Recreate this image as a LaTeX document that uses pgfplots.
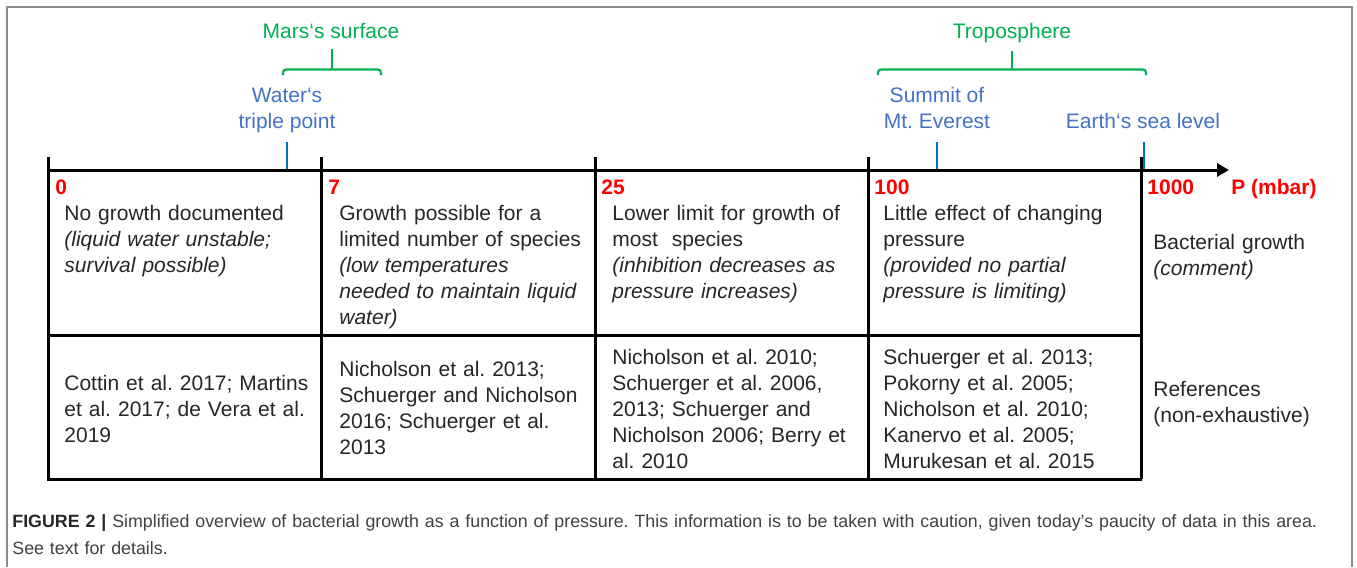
\documentclass[border=0pt]{standalone}
\usepackage{pgfplots}
\pgfplotsset{compat=1.18}
\usepackage{fontspec}
\setmainfont{Liberation Sans}
\usetikzlibrary{arrows.meta}
\definecolor{mgreen}{HTML}{00B050}
\definecolor{mblue}{HTML}{4472C4}
\definecolor{tblue}{HTML}{0070C0}
\definecolor{mred}{HTML}{FF0000}
\definecolor{frame}{HTML}{8C8C8C}
\frenchspacing
\begin{document}
\begin{tikzpicture}
\begin{axis}[
  width=678.5pt, height=283.5pt, scale only axis,
  xmin=0, xmax=1357, ymin=0, ymax=567, y dir=reverse,
  hide axis, clip=false,
]
% bounding box
\path (axis cs:0,0) rectangle (axis cs:1357,567);
% outer frame
\addplot[frame, line width=0.9pt, mark=none] coordinates {(7,567) (7,7) (1352,7) (1352,567)};
% green brackets
\addplot[mgreen, line width=1.1pt, mark=none, rounded corners=1.5pt] coordinates {(283,75) (283,69.5) (381,69.5) (381,75)};
\addplot[mgreen, line width=1.1pt, mark=none] coordinates {(332,69.5) (332,49)};
\addplot[mgreen, line width=1.1pt, mark=none, rounded corners=1.5pt] coordinates {(878,75) (878,69.5) (1146,69.5) (1146,75)};
\addplot[mgreen, line width=1.1pt, mark=none] coordinates {(1012,69.5) (1012,51)};
% blue ticks
\addplot[tblue, line width=1.2pt, mark=none] coordinates {(287,142) (287,170)};
\addplot[tblue, line width=1.2pt, mark=none] coordinates {(937,142) (937,170)};
\addplot[tblue, line width=1.2pt, mark=none] coordinates {(1144,142) (1144,170)};
% table vertical lines (pressure ticks)
\addplot[black, line width=1.5pt, mark=none] coordinates {(48,157) (48,479)};
\addplot[black, line width=1.5pt, mark=none] coordinates {(321,157) (321,479)};
\addplot[black, line width=1.5pt, mark=none] coordinates {(595,157) (595,479)};
\addplot[black, line width=1.5pt, mark=none] coordinates {(868,157) (868,479)};
\addplot[black, line width=1.5pt, mark=none] coordinates {(1141,157) (1141,479)};
% horizontal lines
\addplot[black, line width=1.5pt, mark=none] coordinates {(48,335) (1141,335)};
\addplot[black, line width=1.5pt, mark=none] coordinates {(47.3,479) (1141.7,479)};
% pressure axis with arrow
\addplot[black, line width=1.5pt, mark=none, -{Triangle[length=6pt,width=6.5pt]}] coordinates {(47.3,170) (1229,170)};

\tikzset{lab/.style={inner sep=0pt, font=\fontsize{10.5}{13}\selectfont}}
% top labels
\node[lab, mgreen, anchor=base] at (axis cs:331,38) {Mars‘s surface};
\node[lab, mgreen, anchor=base] at (axis cs:1012,38) {Troposphere};
\node[lab, mblue, anchor=base] at (axis cs:287,102) {Water‘s};
\node[lab, mblue, anchor=base] at (axis cs:287,128) {triple point};
\node[lab, mblue, anchor=base] at (axis cs:937,102) {Summit of};
\node[lab, mblue, anchor=base] at (axis cs:937,128) {Mt. Everest};
\node[lab, mblue, anchor=base] at (axis cs:1143,128) {Earth‘s sea level};
% red pressure labels
\tikzset{rl/.style={lab, mred, font=\fontsize{10.5}{13}\selectfont\bfseries, anchor=base west}}
\node[rl] at (axis cs:55,194) {0};
\node[rl] at (axis cs:328,194) {7};
\node[rl] at (axis cs:601,194) {25};
\node[rl] at (axis cs:874,194) {100};
\node[rl] at (axis cs:1147,194) {1000};
\node[rl] at (axis cs:1231,194) {P (mbar)};

\tikzset{cell/.style={lab, anchor=base west, text width=126pt, align=left, text=black!85}}
% row 1
\node[cell] at (axis cs:64,220) {No growth documented\\ \textit{(liquid water unstable;}\\ \textit{survival possible)}};
\node[cell] at (axis cs:339,220) {Growth possible for a\\ limited number of species\\ \textit{(low temperatures}\\ \textit{needed to maintain liquid}\\ \textit{water)}};
\node[cell] at (axis cs:612,220) {Lower limit for growth of\\ most~ species\\ \textit{(inhibition decreases as}\\ \textit{pressure increases)}};
\node[cell] at (axis cs:883,220) {Little effect of changing\\ pressure\\ \textit{(provided no partial}\\ \textit{pressure is limiting)}};
\node[cell, text width=90pt] at (axis cs:1153,249) {Bacterial growth\\ \textit{(comment)}};
% row 2
\node[cell] at (axis cs:64,390) {Cottin et al. 2017; Martins\\ et al. 2017; de Vera et al.\\ 2019};
\node[cell] at (axis cs:339,376) {Nicholson et al. 2013;\\ Schuerger and Nicholson\\ 2016; Schuerger et al.\\ 2013};
\node[cell] at (axis cs:612,364) {Nicholson et al. 2010;\\ Schuerger et al. 2006,\\ 2013; Schuerger and\\ Nicholson 2006; Berry et\\ al. 2010};
\node[cell] at (axis cs:883,364) {Schuerger et al. 2013;\\ Pokorny et al. 2005;\\ Nicholson et al. 2010;\\ Kanervo et al. 2005;\\ Murukesan et al. 2015};
\node[cell, text width=90pt] at (axis cs:1153,396) {References\\ (non-exhaustive)};
% caption
\node[inner sep=0pt, anchor=base west, text width=662pt, align=left, font=\fontsize{8.9}{13.5}\selectfont, text=black!75] at (axis cs:12,527) {\textbf{\color{black!85}FIGURE 2 |} Simplified overview of bacterial growth as a function of pressure. This information is to be taken with caution, given today’s paucity of data in this area.\\ See text for details.};
\end{axis}
\end{tikzpicture}
\end{document}
